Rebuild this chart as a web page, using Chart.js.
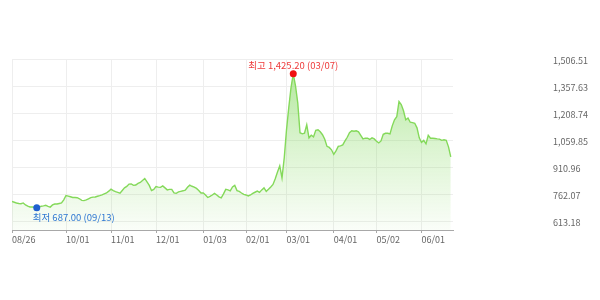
<!DOCTYPE html>
<html lang="ko">
<head>
    <meta charset="UTF-8">
    <title>price chart</title>
    <style>
        html, body {
            margin: 0;
            padding: 0;
            background-color: #ffffff;
        }

        #wrap {
            width: 600px;
            height: 300px;
        }
    </style>
    <script src="https://cdn.jsdelivr.net/npm/chart.js"></script>
</head>
<body>

    <div id="wrap">
        <canvas id="graph" width="600" height="300"></canvas>
    </div>

    <script>
        // closing values, one per trading day (08/26 ... 06/10)
        const closes = [
            721, 717, 713, 710, 709, 713, 702, 695, 691, 691,
            689, 687.00, 690, 695, 697, 700, 694, 690, 702, 707,
            707, 710, 713, 730, 754, 751, 747, 743, 743, 742,
            736, 727, 726, 730, 736, 742, 745, 746, 750, 753,
            757, 763, 768, 778, 789, 781, 775, 771, 767, 782,
            796, 804, 817, 818, 810, 812, 821, 826, 837, 848,
            829, 810, 781, 788, 803, 800, 799, 807, 796, 785,
            788, 788, 768, 766, 774, 777, 780, 784, 799, 811,
            805, 800, 793, 782, 768, 768, 757, 743, 749, 757,
            766, 757, 747, 741, 763, 788, 785, 780, 801, 810,
            781, 777, 768, 760, 757, 752, 757, 766, 772, 778,
            771, 785, 796, 777, 788, 801, 815, 846, 884, 917,
            851, 962, 1116, 1238, 1348, 1425.20, 1359, 1265, 1100, 1094,
            1097, 1144, 1072, 1086, 1077, 1113, 1116, 1105, 1089, 1064,
            1025, 1019, 1006, 981, 1000, 1025, 1028, 1033, 1055, 1075,
            1100, 1111, 1108, 1111, 1105, 1086, 1066, 1070, 1070, 1063,
            1072, 1066, 1053, 1044, 1055, 1091, 1097, 1097, 1094, 1138,
            1171, 1188, 1272, 1255, 1221, 1171, 1181, 1158, 1156, 1152,
            1127, 1072, 1047, 1058, 1039, 1086, 1070, 1070, 1068, 1066,
            1065, 1058, 1061, 1058, 1022, 967
        ];

        // x axis: trading-day index of the first day shown for each month
        const tickIndex = [0, 24, 44, 64, 85, 104, 122, 143, 162, 182];
        const tickLabels = ['08/26', '10/01', '11/01', '12/01', '01/03', '02/01', '03/01', '04/01', '05/02', '06/01'];

        // y axis
        const yTicks = [613.18, 762.07, 910.96, 1059.85, 1208.74, 1357.63, 1506.51];
        const yMin = 563.9;
        const yMax = 1506.51;

        // highest / lowest marks
        const highIndex = 125;
        const highDate = '03/07';
        const lowIndex = 11;
        const lowDate = '09/13';

        const FONT = "'Noto Sans CJK KR', 'Noto Sans', sans-serif";

        function fmt(v) {
            return v.toLocaleString('en-US', { minimumFractionDigits: 2, maximumFractionDigits: 2 });
        }

        const markLabels = {
            id: 'markLabels',
            afterDatasetsDraw(chart) {
                const ctx = chart.ctx;
                const pts = chart.getDatasetMeta(0).data;
                const hi = pts[highIndex];
                const lo = pts[lowIndex];

                ctx.save();
                ctx.font = '9.5px ' + FONT;

                ctx.fillStyle = '#ee3b3b';
                ctx.textAlign = 'center';
                ctx.textBaseline = 'bottom';
                ctx.fillText('최고 ' + fmt(closes[highIndex]) + ' (' + highDate + ')', hi.x, hi.y - 4);

                ctx.fillStyle = '#2f78d2';
                ctx.textAlign = 'left';
                ctx.textBaseline = 'top';
                ctx.fillText('최저 ' + fmt(closes[lowIndex]) + ' (' + lowDate + ')', lo.x - 4, lo.y + 5);
                ctx.restore();
            }
        };

        const ctx = document.getElementById('graph').getContext('2d');

        const graph = new Chart(ctx, {
            type: 'line',
            data: {
                datasets: [{
                    data: closes.map((v, i) => ({ x: i, y: v })),
                    borderColor: '#84d95a',
                    borderWidth: 1.4,
                    tension: 0,
                    fill: 'start',
                    backgroundColor: function (c) {
                        const area = c.chart.chartArea;
                        if (!area) return 'rgba(130,215,90,0.3)';
                        const g = c.chart.ctx.createLinearGradient(0, area.top, 0, area.bottom);
                        g.addColorStop(0, 'rgba(125,215,85,0.62)');
                        g.addColorStop(0.5, 'rgba(125,215,85,0.28)');
                        g.addColorStop(1, 'rgba(125,215,85,0.04)');
                        return g;
                    },
                    pointRadius: c => (c.dataIndex === highIndex || c.dataIndex === lowIndex) ? 3.5 : 0,
                    pointHoverRadius: 0,
                    pointBorderWidth: 0,
                    pointBackgroundColor: c => c.dataIndex === highIndex ? '#f01010' : '#1f5fcf'
                }]
            },
            options: {
                responsive: false,
                animation: false,
                layout: {
                    padding: { left: 12, top: 59, right: 0, bottom: 0 }
                },
                plugins: {
                    legend: { display: false },
                    tooltip: { enabled: false }
                },
                scales: {
                    x: {
                        type: 'linear',
                        min: 0,
                        max: 196,
                        afterBuildTicks: s => { s.ticks = tickIndex.map(v => ({ value: v })); },
                        afterFit: s => { s.height = 70; s.paddingLeft = 0; s.paddingRight = 0; },
                        border: { color: '#a8a8a8', width: 1 },
                        grid: {
                            color: '#eeeeee',
                            tickColor: '#a8a8a8',
                            tickLength: 3
                        },
                        ticks: {
                            autoSkip: false,
                            maxRotation: 0,
                            align: 'start',
                            padding: 1,
                            color: '#666666',
                            font: { family: FONT, size: 9 },
                            callback: v => tickLabels[tickIndex.indexOf(v)]
                        }
                    },
                    y: {
                        position: 'right',
                        min: yMin,
                        max: yMax,
                        afterBuildTicks: s => { s.ticks = yTicks.map(v => ({ value: v })); },
                        afterFit: s => { s.width = 147; s.paddingTop = 0; s.paddingBottom = 0; },
                        border: { display: false },
                        grid: {
                            color: '#eeeeee',
                            drawTicks: false
                        },
                        ticks: {
                            padding: 100,
                            labelOffset: 1.5,
                            color: '#666666',
                            font: { family: FONT, size: 9 },
                            callback: v => fmt(v)
                        }
                    }
                }
            },
            plugins: [markLabels]
        });
    </script>

</body>
</html>
